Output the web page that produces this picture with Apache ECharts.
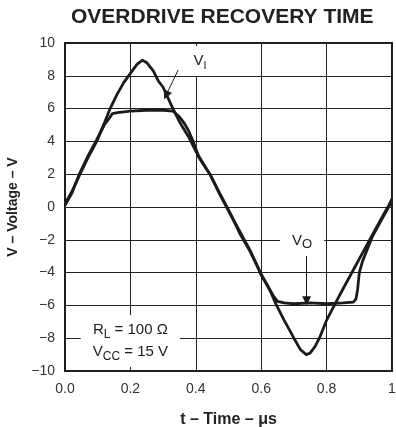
<!DOCTYPE html>
<html>
<head>
<meta charset="utf-8">
<script src="https://cdn.jsdelivr.net/npm/echarts@6/dist/echarts.min.js"></script>
<style>
html,body{margin:0;padding:0;background:#fff;}
#chart{width:396px;height:427px;}
</style>
</head>
<body>
<div id="chart"></div>
<script>
// ---- data ----
const titleText = 'OVERDRIVE RECOVERY TIME';
const xName = 't \u2013 Time \u2013 \u03bcs';
const yName = 'V \u2013 Voltage \u2013 V';
const xTicks = [0, 0.2, 0.4, 0.6, 0.8, 1];
const yTicks = [-10, -8, -6, -4, -2, 0, 2, 4, 6, 8, 10];

// V_I trace (time in us, volts)
const tVI = [0.0, 0.02, 0.046, 0.07, 0.097, 0.12, 0.138, 0.16, 0.18, 0.2, 0.22, 0.237, 0.25, 0.27, 0.285, 0.3, 0.33, 0.35, 0.38, 0.4, 0.433, 0.443, 0.47, 0.494, 0.52, 0.535, 0.566, 0.59, 0.6, 0.625, 0.647, 0.67, 0.688, 0.7, 0.72, 0.738, 0.75, 0.765, 0.78, 0.8, 0.83, 0.85, 0.88, 0.91, 0.94, 0.97, 0.99, 1.0];
const vVI = [0.2, 0.9, 2.0, 3.0, 4.0, 5.1, 6.0, 6.9, 7.6, 8.15, 8.7, 8.95, 8.8, 8.3, 7.7, 7.3, 6.0, 5.2, 4.2, 3.4, 2.3, 2.0, 0.9, 0.0, -1.0, -1.64, -2.7, -3.7, -4.15, -5.0, -6.0, -6.9, -7.55, -8.0, -8.7, -9.0, -8.9, -8.5, -7.9, -6.9, -5.75, -5.0, -3.9, -2.8, -1.7, -0.6, 0.1, 0.5];

// V_O trace
const tVO = [0.0, 0.02, 0.046, 0.07, 0.097, 0.12, 0.135, 0.145, 0.16, 0.2, 0.25, 0.3, 0.33, 0.35, 0.365, 0.377, 0.39, 0.398, 0.41, 0.43, 0.445, 0.47, 0.494, 0.52, 0.566, 0.6, 0.625, 0.64, 0.65, 0.67, 0.7, 0.75, 0.8, 0.85, 0.882, 0.89, 0.895, 0.9, 0.91, 0.94, 0.97, 0.99, 1.0];
const vVO = [0.1, 0.8, 2.1, 3.1, 4.1, 5.0, 5.4, 5.7, 5.75, 5.85, 5.9, 5.9, 5.85, 5.5, 5.1, 4.68, 4.1, 3.66, 3.0, 2.4, 1.95, 0.95, 0.05, -0.95, -2.65, -4.1, -5.0, -5.5, -5.75, -5.85, -5.9, -5.85, -5.9, -5.85, -5.8, -5.6, -5.0, -4.0, -3.3, -1.8, -0.7, 0.0, 0.4];

const pairs = (ts, vs) => ts.map((t, i) => [t, vs[i]]);
const ink = '#1b1b1b';
const font = 'Liberation Sans, Arial, Helvetica, sans-serif';

const chart = echarts.init(document.getElementById('chart'), null, {renderer: 'canvas'});
const labelBox = {
  show: true, position: 'inside', color: ink, fontFamily: font, fontSize: 14,
  backgroundColor: '#fff'
};
chart.setOption({
  animation: false,
  backgroundColor: '#fff',
  title: {
    text: titleText, left: 66, top: 2,
    textStyle: {fontFamily: font, fontWeight: 'bold', fontSize: 21, color: '#222'}
  },
  grid: {left: 65, right: 4, top: 43, bottom: 56, show: true, borderColor: ink, borderWidth: 2,
    backgroundColor: 'transparent', containLabel: false, outerBoundsMode: 'none'},
  xAxis: {
    type: 'value', min: xTicks[0], max: xTicks[xTicks.length - 1], interval: 0.2,
    name: xName, nameLocation: 'middle', nameGap: 41,
    nameTextStyle: {fontFamily: font, fontWeight: 'bold', fontSize: 16, color: '#222'},
    axisLine: {show: false}, axisTick: {show: false},
    axisLabel: {margin: 11, fontFamily: font, fontSize: 14, color: '#333',
      formatter: v => (Math.abs(v - 1) < 1e-9 ? '1' : v.toFixed(1))},
    splitLine: {show: true, lineStyle: {color: '#222', width: 1}}
  },
  yAxis: {
    type: 'value', min: yTicks[0], max: yTicks[yTicks.length - 1], interval: 2,
    name: yName, nameLocation: 'middle', nameGap: 44,
    nameTextStyle: {fontFamily: font, fontWeight: 'bold', fontSize: 14, color: '#222'},
    axisLine: {show: false}, axisTick: {show: false},
    axisLabel: {margin: 10, fontFamily: font, fontSize: 14, color: '#333',
      formatter: v => (v < 0 ? '\u2212' + Math.abs(v) : String(v))},
    splitLine: {show: true, lineStyle: {color: '#222', width: 1}}
  },
  series: [
    {
      name: 'VI', type: 'line', data: pairs(tVI, vVI), showSymbol: false, symbol: 'none',
      lineStyle: {color: ink, width: 2.8}, z: 3,
      markLine: {
        silent: true, symbol: ['none', 'triangle'], symbolSize: 9,
        label: {show: false},
        lineStyle: {color: ink, width: 1, type: 'solid'},
        itemStyle: {color: ink},
        data: [
          [{coord: [0.346, 8.35]}, {coord: [0.309, 6.82]}],
          [{coord: [0.739, -2.97]}, {coord: [0.739, -5.72]}]
        ]
      },
      markPoint: {
        silent: true, symbol: 'rect', symbolSize: 1, itemStyle: {color: 'rgba(0,0,0,0)'},
        data: [
          {coord: [0.413, 8.9], label: Object.assign({}, labelBox, {
            formatter: '{v|V}{s|I}', padding: [5, 8, 5, 8],
            rich: {v: {fontSize: 15, lineHeight: 20, fontFamily: font, color: ink}, s: {fontSize: 11, lineHeight: 10, verticalAlign: 'bottom', fontFamily: font, color: ink}}
          })},
          {coord: [0.725, -2.05], label: Object.assign({}, labelBox, {
            formatter: '{v|V}{s|O}', padding: [5, 12, 5, 12],
            rich: {v: {fontSize: 15, lineHeight: 20, fontFamily: font, color: ink}, s: {fontSize: 13, lineHeight: 14, verticalAlign: 'bottom', fontFamily: font, color: ink}}
          })},
          {coord: [0.2, -8.17], label: Object.assign({}, labelBox, {
            formatter: '{v|R}{s|L}{v| = 100 \u03a9}\n{v|V}{s|CC}{v| = 15 V}', padding: [4, 12, 4, 12],
            rich: {v: {fontSize: 15, lineHeight: 22, fontFamily: font, color: ink}, s: {fontSize: 12, lineHeight: 12, verticalAlign: 'bottom', fontFamily: font, color: ink}}
          })}
        ]
      }
    },
    {
      name: 'VO', type: 'line', data: pairs(tVO, vVO), showSymbol: false, symbol: 'none',
      lineStyle: {color: ink, width: 2.8}, z: 3
    }
  ]
});
</script>
</body>
</html>
